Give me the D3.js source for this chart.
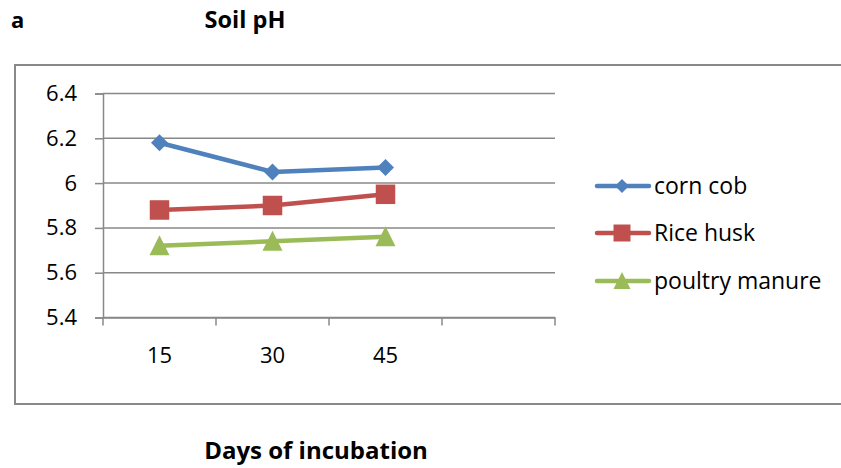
<!DOCTYPE html>
<html>
<head>
<meta charset="utf-8">
<script src="https://cdn.jsdelivr.net/npm/d3@7/dist/d3.min.js"></script>
<style>
  html, body { margin: 0; padding: 0; background: #fff; }
  svg { display: block; }
  text { font-family: "Open Sans", Lato, sans-serif; fill: #000; }
</style>
</head>
<body>
<svg id="chart" width="841" height="468"></svg>
<script>
const categories = ["15", "30", "45", ""];
const yTicks = [5.4, 5.6, 5.8, 6, 6.2, 6.4];
const seriesNames = ["corn cob", "Rice husk", "poultry manure"];
const cornCob = [6.18, 6.05, 6.07];
const riceHusk = [5.88, 5.90, 5.95];
const poultryManure = [5.72, 5.74, 5.76];
const colors = ["#4F81BD", "#C0504D", "#9BBB59"];

// marker shapes; "size" here is the squared width of the marker
const diamond = { draw(ctx, size) { const r = Math.sqrt(size) / 2; ctx.moveTo(0, -r); ctx.lineTo(r, 0); ctx.lineTo(0, r); ctx.lineTo(-r, 0); ctx.closePath(); } };
const square = { draw(ctx, size) { const r = Math.sqrt(size) / 2; ctx.rect(-r, -r, 2 * r, 2 * r); } };
const triangle = { draw(ctx, size) { const r = Math.sqrt(size) / 2; ctx.moveTo(0, -r * 1.05); ctx.lineTo(r, r * 0.95); ctx.lineTo(-r, r * 0.95); ctx.closePath(); } };
const symbols = [diamond, square, triangle];
const sizes = [17 * 17, 19.5 * 19.5, 20 * 20];
const legendSizes = [14 * 14, 17 * 17, 17 * 17];

const series = [cornCob, riceHusk, poultryManure].map((vals, i) => ({
  name: seriesNames[i], color: colors[i], symbol: symbols[i],
  values: vals.map((v, j) => ({ cat: categories[j], v }))
}));

const svg = d3.select("#chart");
const pLeft = 103, pRight = 555, pTop = 93.5, pBottom = 317.5;
const FONT = "'Open Sans', Lato, sans-serif";

// outer frame (right edge runs off the picture)
svg.append("path")
  .attr("d", `M 845 65 H 15 V 404 H 845`)
  .attr("fill", "none").attr("stroke", "#898989").attr("stroke-width", 2);

// title texts
svg.append("text").attr("x", 11).attr("y", 28).attr("font-weight", "bold")
  .attr("font-size", 22).text("a");
svg.append("text").attr("x", 245).attr("y", 28).attr("font-weight", "bold")
  .attr("text-anchor", "middle").attr("font-size", 23.5).text("Soil pH");

const x = d3.scaleBand().domain(categories).range([pLeft, pRight]);
const y = d3.scaleLinear().domain([5.4, 6.4]).range([pBottom, pTop]);

// gridlines
svg.append("g").selectAll("line").data(yTicks).join("line")
  .attr("x1", pLeft).attr("x2", pRight)
  .attr("y1", d => y(d)).attr("y2", d => y(d))
  .attr("stroke", "#888").attr("stroke-width", 1.5);

// y axis
const yAxis = svg.append("g").attr("transform", `translate(${pLeft},0)`)
  .call(d3.axisLeft(y).tickValues(yTicks).tickSize(8).tickPadding(18)
    .tickFormat(d => String(d)));
yAxis.select(".domain").attr("stroke", "#888").attr("stroke-width", 1.5);
yAxis.selectAll(".tick line").attr("stroke", "#888").attr("stroke-width", 1.5);
yAxis.selectAll(".tick text").attr("font-size", 22).attr("font-family", FONT).attr("fill", "#000");

// x axis
const xAxis = svg.append("g").attr("transform", `translate(0,${pBottom})`)
  .call(d3.axisBottom(x).tickSize(0).tickPadding(30));
xAxis.select(".domain").attr("stroke", "#888").attr("stroke-width", 1.5);
xAxis.selectAll(".tick text").attr("font-size", 22).attr("font-family", FONT).attr("fill", "#000");
// boundary tick marks between categories
const bounds = categories.map(c => x(c)).concat([pRight]);
svg.append("g").selectAll("line").data(bounds).join("line")
  .attr("x1", d => d).attr("x2", d => d)
  .attr("y1", pBottom).attr("y2", pBottom + 8)
  .attr("stroke", "#888").attr("stroke-width", 1.5);

// x axis title
svg.append("text").attr("x", 316).attr("y", 459).attr("font-weight", "bold")
  .attr("text-anchor", "middle").attr("font-size", 24).text("Days of incubation");

// lines
const line = d3.line().x(d => x(d.cat) + x.bandwidth() / 2).y(d => y(d.v));
series.forEach((s, i) => {
  svg.append("path").datum(s.values).attr("d", line)
    .attr("fill", "none").attr("stroke", s.color).attr("stroke-width", 4.5)
    .attr("stroke-linejoin", "round");
  svg.append("g").selectAll("path").data(s.values).join("path")
    .attr("transform", d => `translate(${x(d.cat) + x.bandwidth() / 2},${y(d.v)})`)
    .attr("d", d3.symbol().type(s.symbol).size(sizes[i]))
    .attr("fill", s.color);
});

// legend
const legendY = [186, 233, 281];
series.forEach((s, i) => {
  const g = svg.append("g").attr("transform", `translate(0,${legendY[i]})`);
  g.append("line").attr("x1", 597).attr("x2", 649).attr("y1", 0).attr("y2", 0)
    .attr("stroke", s.color).attr("stroke-width", 4.5).attr("stroke-linecap", "round");
  g.append("path").attr("transform", "translate(622,0)")
    .attr("d", d3.symbol().type(s.symbol).size(legendSizes[i])).attr("fill", s.color);
  g.append("text").attr("x", 654).attr("y", 0).attr("dy", "0.36em")
    .attr("font-size", 23).text(s.name);
});
</script>
</body>
</html>
